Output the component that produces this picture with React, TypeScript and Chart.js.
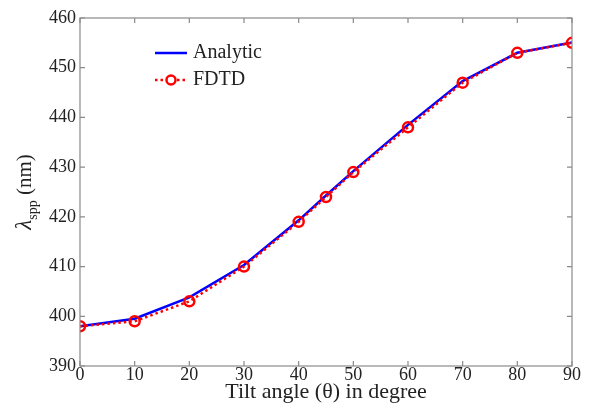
import React, { useEffect, useRef } from "react";
import { Chart, registerables } from "chart.js";

Chart.register(...registerables);

const angles = [0, 10, 20, 30, 40, 45, 50, 60, 70, 80, 90];
const analytic = [398, 399.5, 403.8, 410.3, 419.3, 424.3, 429.2, 438.5, 447.3, 453, 455.1];
const fdtd = [398, 399, 403, 410, 419, 424, 429, 438, 447, 453, 455];
const xTicks = [0, 10, 20, 30, 40, 50, 60, 70, 80, 90];
const yTicks = [390, 400, 410, 420, 430, 440, 450, 460];
const legendLabels = ["Analytic", "FDTD"];
const xTitle = "Tilt angle (θ) in degree";

const SERIF = "'Liberation Serif', 'DejaVu Serif', serif";

const framePlugin = {
  id: "frame",
  afterDraw(chart: any) {
    const { ctx, chartArea: a, scales } = chart;
    ctx.save();
    ctx.strokeStyle = "#8a8a8a";
    ctx.lineWidth = 1.2;
    ctx.strokeRect(a.left, a.top, a.right - a.left, a.bottom - a.top);
    const tl = 5;
    ctx.beginPath();
    xTicks.forEach((v) => {
      const x = scales.x.getPixelForValue(v);
      ctx.moveTo(x, a.bottom);
      ctx.lineTo(x, a.bottom - tl);
      ctx.moveTo(x, a.top);
      ctx.lineTo(x, a.top + tl);
    });
    yTicks.forEach((v) => {
      const y = scales.y.getPixelForValue(v);
      ctx.moveTo(a.left, y);
      ctx.lineTo(a.left + tl, y);
      ctx.moveTo(a.right, y);
      ctx.lineTo(a.right - tl, y);
    });
    ctx.stroke();

    // y-axis title with subscript
    ctx.fillStyle = "#222";
    ctx.translate(31, 192);
    ctx.rotate(-Math.PI / 2);
    const fMain = `21px ${SERIF}`;
    const fLam = `italic 23px ${SERIF}`;
    const fSub = `14px ${SERIF}`;
    ctx.font = fLam;
    const wL = ctx.measureText("λ").width;
    ctx.font = fSub;
    const wS = ctx.measureText("spp").width;
    ctx.font = fMain;
    const wN = ctx.measureText(" (nm)").width;
    let x0 = -(wL + wS + wN) / 2;
    ctx.textBaseline = "alphabetic";
    ctx.textAlign = "left";
    ctx.font = fLam;
    ctx.fillText("λ", x0, 0);
    x0 += wL;
    ctx.font = fSub;
    ctx.fillText("spp", x0, 6);
    x0 += wS;
    ctx.font = fMain;
    ctx.fillText(" (nm)", x0, 0);
    ctx.restore();

    // legend
    ctx.save();
    const lx0 = 155, lx1 = 187, ly1 = 53, ly2 = 80;
    ctx.strokeStyle = "#0000ff";
    ctx.lineWidth = 2.5;
    ctx.beginPath();
    ctx.moveTo(lx0, ly1);
    ctx.lineTo(lx1, ly1);
    ctx.stroke();
    ctx.strokeStyle = "#ff0000";
    ctx.setLineDash([2.5, 3]);
    ctx.beginPath();
    ctx.moveTo(lx0, ly2);
    ctx.lineTo(lx1, ly2);
    ctx.stroke();
    ctx.setLineDash([]);
    ctx.beginPath();
    ctx.arc(171, ly2, 4.5, 0, Math.PI * 2);
    ctx.fillStyle = "#fff";
    ctx.fill();
    ctx.stroke();
    ctx.fillStyle = "#222";
    ctx.font = `20px ${SERIF}`;
    ctx.textBaseline = "middle";
    ctx.textAlign = "left";
    ctx.fillText(legendLabels[0], 193, ly1);
    ctx.fillText(legendLabels[1], 193, ly2);
    ctx.restore();
  },
};

export default function App() {
  const ref = useRef<HTMLCanvasElement>(null);
  useEffect(() => {
    const canvas = ref.current!;
    const chart = new Chart(canvas, {
      type: "line",
      data: {
        datasets: [
          {
            label: legendLabels[0],
            data: angles.map((x, i) => ({ x, y: analytic[i] })),
            borderColor: "#0000ff",
            borderWidth: 2.5,
            pointRadius: 0,
            tension: 0,
            order: 2,
          },
          {
            label: legendLabels[1],
            data: angles.map((x, i) => ({ x, y: fdtd[i] })),
            borderColor: "#ff0000",
            borderWidth: 2.5,
            borderDash: [2.5, 3],
            pointRadius: 5,
            pointBorderWidth: 2.5,
            pointBorderColor: "#ff0000",
            pointBackgroundColor: "rgba(0,0,0,0)",
            tension: 0,
            order: 1,
          },
        ],
      },
      options: {
        animation: false,
        responsive: false,
        devicePixelRatio: 1,
        layout: { padding: { left: 0, right: 19, top: 18, bottom: 0 } },
        plugins: { legend: { display: false }, tooltip: { enabled: false } },
        scales: {
          x: {
            type: "linear",
            min: 0,
            max: 90,
            afterBuildTicks: (s: any) => {
              s.ticks = xTicks.map((v) => ({ value: v }));
            },
            afterFit: (s: any) => {
              s.height = 39;
            },
            grid: { display: false, drawTicks: false },
            border: { display: false },
            ticks: {
              padding: -2,
              color: "#222",
              font: { family: SERIF, size: 18 },
              maxRotation: 0,
            },
            title: {
              display: true,
              text: xTitle,
              color: "#222",
              font: { family: SERIF, size: 22 },
              padding: { top: -7, bottom: 0 },
            },
          },
          y: {
            type: "linear",
            min: 390,
            max: 460,
            afterBuildTicks: (s: any) => {
              s.ticks = yTicks.map((v) => ({ value: v }));
            },
            afterFit: (s: any) => {
              s.width = 80;
            },
            grid: { display: false, drawTicks: false },
            border: { display: false },
            ticks: {
              padding: 4,
              color: "#222",
              font: { family: SERIF, size: 18 },
            },
          },
        },
      },
      plugins: [framePlugin],
    });
    return () => chart.destroy();
  }, []);
  return (
    <div style={{ position: "fixed", left: 0, top: 0, width: 591, height: 405, background: "#fff" }}>
      <canvas ref={ref} width={591} height={405} style={{ width: 591, height: 405, display: "block" }} />
    </div>
  );
}
